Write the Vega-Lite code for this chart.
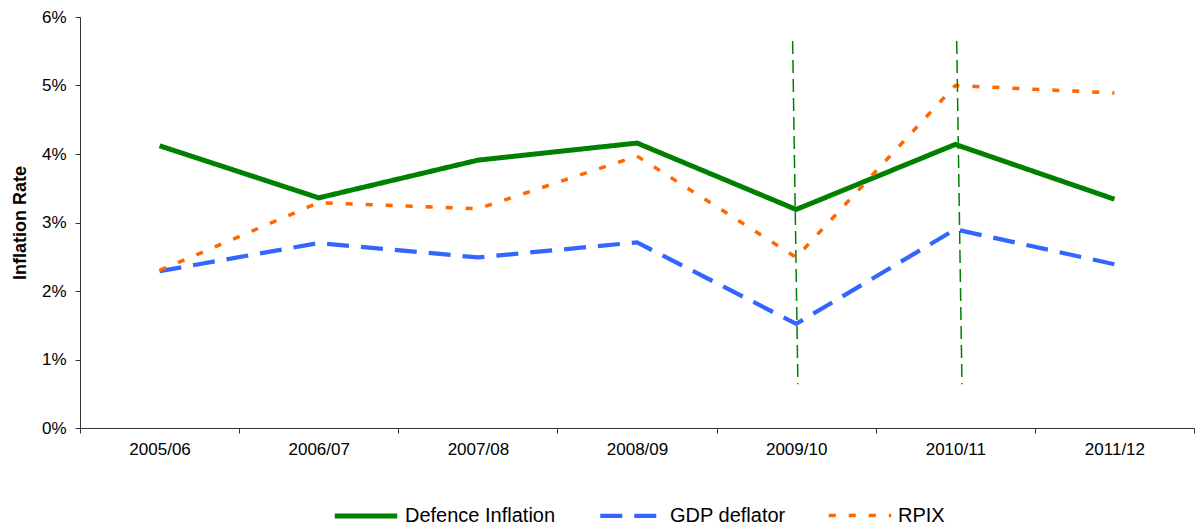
{
  "$schema": "https://vega.github.io/schema/vega-lite/v6.json",
  "width": 1114,
  "height": 411,
  "autosize": "none",
  "padding": {"left": 80, "top": 17, "right": 1, "bottom": 97},
  "config": {
    "font": "Liberation Sans",
    "view": {"stroke": null},
    "axis": {"domainColor": "#333333", "tickColor": "#333333", "labelColor": "#000000", "titleColor": "#000000", "grid": false},
    "legend": {"labelFontSize": 20, "labelColor": "#000000", "symbolType": "stroke", "symbolSize": 3900, "columnPadding": 35, "labelOffset": 5}
  },
  "datasets": {
    "rates": [
      {"period": "2005/06", "series": "Defence Inflation", "rate": 4.12},
      {"period": "2006/07", "series": "Defence Inflation", "rate": 3.36},
      {"period": "2007/08", "series": "Defence Inflation", "rate": 3.91},
      {"period": "2008/09", "series": "Defence Inflation", "rate": 4.16},
      {"period": "2009/10", "series": "Defence Inflation", "rate": 3.19},
      {"period": "2010/11", "series": "Defence Inflation", "rate": 4.14},
      {"period": "2011/12", "series": "Defence Inflation", "rate": 3.34},
      {"period": "2005/06", "series": "GDP deflator", "rate": 2.29},
      {"period": "2006/07", "series": "GDP deflator", "rate": 2.70},
      {"period": "2007/08", "series": "GDP deflator", "rate": 2.49},
      {"period": "2008/09", "series": "GDP deflator", "rate": 2.71},
      {"period": "2009/10", "series": "GDP deflator", "rate": 1.52},
      {"period": "2010/11", "series": "GDP deflator", "rate": 2.90},
      {"period": "2011/12", "series": "GDP deflator", "rate": 2.39},
      {"period": "2005/06", "series": "RPIX", "rate": 2.30},
      {"period": "2006/07", "series": "RPIX", "rate": 3.29},
      {"period": "2007/08", "series": "RPIX", "rate": 3.20},
      {"period": "2008/09", "series": "RPIX", "rate": 3.97},
      {"period": "2009/10", "series": "RPIX", "rate": 2.49},
      {"period": "2010/11", "series": "RPIX", "rate": 5.00},
      {"period": "2011/12", "series": "RPIX", "rate": 4.89}
    ],
    "markers": [
      {"start": 4.978, "end": 5.011, "top": 5.65, "bottom": 0.64},
      {"start": 6.009, "end": 6.042, "top": 5.65, "bottom": 0.64}
    ]
  },
  "layer": [
    {
      "data": {"name": "rates"},
      "mark": {"type": "line", "strokeCap": "butt", "strokeJoin": "miter"},
      "encoding": {
        "x": {
          "field": "period",
          "type": "ordinal",
          "sort": null,
          "scale": {"type": "band", "paddingInner": 0, "paddingOuter": 0},
          "axis": {"title": null, "labelAngle": 0, "labelFontSize": 17, "tickBand": "extent", "tickSize": 5, "labelPadding": 8}
        },
        "y": {
          "field": "rate",
          "type": "quantitative",
          "scale": {"domain": [0, 6], "nice": false},
          "axis": {
            "title": "Inflation Rate",
            "titleFontSize": 18,
            "titleFontWeight": "bold",
            "titlePadding": 12,
            "values": [0, 1, 2, 3, 4, 5, 6],
            "labelExpr": "datum.value + '%'",
            "labelFontSize": 17,
            "tickSize": 5,
            "labelPadding": 9
          }
        },
        "color": {
          "field": "series",
          "type": "nominal",
          "scale": {"domain": ["Defence Inflation", "GDP deflator", "RPIX"], "range": ["#008000", "#3366ff", "#ff6600"]},
          "legend": {"title": null, "orient": "none", "direction": "horizontal", "legendX": 252, "legendY": 465}
        },
        "strokeDash": {
          "field": "series",
          "type": "nominal",
          "scale": {"domain": ["Defence Inflation", "GDP deflator", "RPIX"], "range": [[1, 0], [22, 12], [7, 13]]},
          "legend": {"title": null, "orient": "none", "direction": "horizontal", "legendX": 252, "legendY": 465}
        },
        "strokeWidth": {
          "field": "series",
          "type": "nominal",
          "scale": {"domain": ["Defence Inflation", "GDP deflator", "RPIX"], "range": [5, 3.5, 4]},
          "legend": {"title": null, "orient": "none", "direction": "horizontal", "legendX": 252, "legendY": 465}
        }
      }
    },
    {
      "data": {"name": "markers"},
      "mark": {"type": "rule", "color": "#008000", "strokeWidth": 1.5, "strokeDash": [13, 6]},
      "encoding": {
        "x": {"field": "start", "type": "quantitative", "scale": {"domain": [0.5, 7.5], "nice": false, "zero": false}, "axis": null},
        "x2": {"field": "end"},
        "y": {"field": "top", "type": "quantitative"},
        "y2": {"field": "bottom"}
      }
    }
  ],
  "resolve": {"scale": {"x": "independent"}, "axis": {"x": "independent"}}
}
